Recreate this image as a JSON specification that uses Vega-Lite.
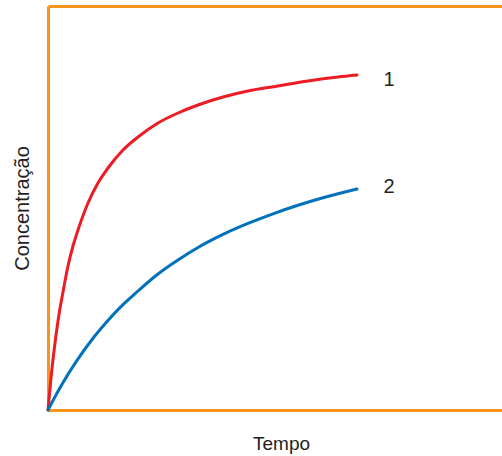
{
  "$schema": "https://vega.github.io/schema/vega-lite/v6.json",
  "autosize": "none",
  "padding": {"left": 48, "top": 6, "right": 0, "bottom": 46},
  "width": 454,
  "height": 404,
  "background": "white",
  "config": {"view": {"stroke": null}, "font": "Liberation Sans"},
  "datasets": {
    "curves": [
      {"serie": "1", "tempo": 0, "conc": 0},
      {"serie": "1", "tempo": 3, "conc": 32},
      {"serie": "1", "tempo": 6, "conc": 59},
      {"serie": "1", "tempo": 10, "conc": 89},
      {"serie": "1", "tempo": 15, "conc": 118},
      {"serie": "1", "tempo": 20, "conc": 144},
      {"serie": "1", "tempo": 25, "conc": 164},
      {"serie": "1", "tempo": 30, "conc": 180},
      {"serie": "1", "tempo": 40, "conc": 207},
      {"serie": "1", "tempo": 50, "conc": 227},
      {"serie": "1", "tempo": 60, "conc": 242},
      {"serie": "1", "tempo": 75, "conc": 260},
      {"serie": "1", "tempo": 90, "conc": 273},
      {"serie": "1", "tempo": 110, "conc": 287},
      {"serie": "1", "tempo": 130, "conc": 297},
      {"serie": "1", "tempo": 150, "conc": 305},
      {"serie": "1", "tempo": 175, "conc": 313},
      {"serie": "1", "tempo": 200, "conc": 319},
      {"serie": "1", "tempo": 230, "conc": 324},
      {"serie": "1", "tempo": 260, "conc": 329},
      {"serie": "1", "tempo": 290, "conc": 333},
      {"serie": "1", "tempo": 309, "conc": 335},
      {"serie": "2", "tempo": 0, "conc": 0},
      {"serie": "2", "tempo": 13, "conc": 24},
      {"serie": "2", "tempo": 29, "conc": 49.6},
      {"serie": "2", "tempo": 46, "conc": 73},
      {"serie": "2", "tempo": 59, "conc": 88.6},
      {"serie": "2", "tempo": 75, "conc": 105.4},
      {"serie": "2", "tempo": 90, "conc": 119},
      {"serie": "2", "tempo": 110, "conc": 136},
      {"serie": "2", "tempo": 130, "conc": 150},
      {"serie": "2", "tempo": 150, "conc": 162.5},
      {"serie": "2", "tempo": 175, "conc": 175.6},
      {"serie": "2", "tempo": 200, "conc": 186.6},
      {"serie": "2", "tempo": 225, "conc": 196.2},
      {"serie": "2", "tempo": 250, "conc": 204.7},
      {"serie": "2", "tempo": 275, "conc": 212.2},
      {"serie": "2", "tempo": 309, "conc": 221}
    ],
    "labels": [
      {"serie": "1", "tempo": 341, "conc": 330},
      {"serie": "2", "tempo": 341, "conc": 223}
    ]
  },
  "resolve": {"axis": {"x": "independent"}},
  "layer": [
    {
      "data": {"name": "curves"},
      "mark": {"type": "line", "strokeWidth": 3, "interpolate": "monotone", "strokeCap": "round"},
      "encoding": {
        "x": {
          "field": "tempo", "type": "quantitative",
          "scale": {"domain": [0, 454], "nice": false},
          "axis": {"title": "Tempo", "orient": "bottom", "ticks": false, "labels": false, "grid": false,
                   "domainColor": "#f7941d", "domainWidth": 3,
                   "titleFontSize": 19, "titleFontWeight": "normal", "titleColor": "#231f20",
                   "titlePadding": 24, "titleX": 233}
        },
        "y": {
          "field": "conc", "type": "quantitative",
          "scale": {"domain": [0, 404], "nice": false},
          "axis": {"title": "Concentração", "ticks": false, "labels": false, "grid": false,
                   "domainColor": "#f7941d", "domainWidth": 3,
                   "titleFontSize": 20, "titleFontWeight": "normal", "titleColor": "#231f20",
                   "titlePadding": 16}
        },
        "color": {
          "field": "serie", "type": "nominal",
          "scale": {"domain": ["1", "2"], "range": ["#ed1c24", "#0072bc"]},
          "legend": null
        }
      }
    },
    {
      "data": {"name": "labels"},
      "mark": {"type": "text", "fontSize": 20, "color": "#231f20", "align": "center", "baseline": "middle"},
      "encoding": {
        "x": {"field": "tempo", "type": "quantitative",
              "axis": {"orient": "top", "ticks": false, "labels": false, "grid": false, "title": null,
                       "domainColor": "#f7941d", "domainWidth": 3}},
        "y": {"field": "conc", "type": "quantitative"},
        "text": {"field": "serie"}
      }
    }
  ]
}
